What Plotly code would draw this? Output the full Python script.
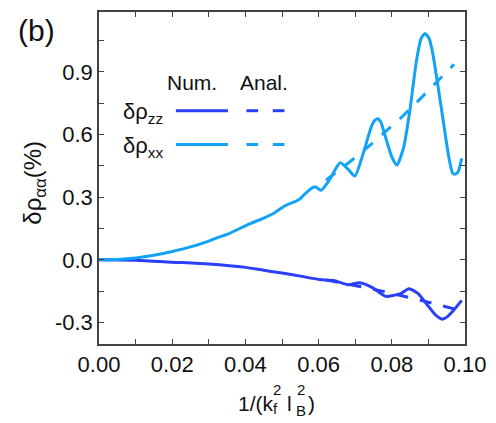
import plotly.graph_objects as go

# ---- data ----
x_xx_num = [0, 0.005, 0.01, 0.015, 0.02, 0.025, 0.03, 0.0322, 0.035, 0.041, 0.045, 0.0481,
            0.0508, 0.0535, 0.0548, 0.0557, 0.0575, 0.0583, 0.0592, 0.0606, 0.0628, 0.0659,
            0.0681, 0.0699, 0.0721, 0.0743, 0.0752, 0.0761, 0.0770, 0.0778, 0.0801, 0.0814,
            0.0832, 0.0849, 0.0867, 0.0880, 0.0891, 0.0902, 0.0911, 0.0934, 0.0956, 0.0966,
            0.0971, 0.0976, 0.0982, 0.0991]
y_xx_num = [0, 0.002, 0.009, 0.022, 0.04, 0.062, 0.09, 0.105, 0.122, 0.171, 0.2, 0.227,
            0.259, 0.279, 0.29, 0.306, 0.335, 0.346, 0.349, 0.333, 0.378, 0.465,
            0.433, 0.401, 0.505, 0.632, 0.665, 0.676, 0.66, 0.616, 0.489, 0.454,
            0.536, 0.711, 0.949, 1.06, 1.084, 1.06, 0.997, 0.743, 0.489, 0.415,
            0.410, 0.412, 0.425, 0.486]

x_zz_num = [0, 0.01, 0.02, 0.03, 0.04, 0.045, 0.05, 0.055, 0.0601, 0.0641, 0.0681, 0.0712,
            0.0747, 0.0783, 0.0805, 0.0827, 0.0847, 0.0872, 0.0898, 0.0920, 0.0938, 0.0951,
            0.0969, 0.0991]
y_zz_num = [0, -0.002, -0.011, -0.02, -0.036, -0.05, -0.063, -0.078, -0.094, -0.099, -0.119, -0.11,
            -0.133, -0.175, -0.170, -0.159, -0.138, -0.162, -0.218, -0.265, -0.284, -0.273,
            -0.241, -0.194]

x_anal = [0.062, 0.066, 0.07, 0.074, 0.078, 0.082, 0.086, 0.09, 0.094, 0.097]
y_xx_anal = [0.381, 0.435, 0.49, 0.548, 0.608, 0.672, 0.74, 0.81, 0.884, 0.936]
y_zz_anal = [-0.096, -0.109, -0.122, -0.137, -0.152, -0.168, -0.185, -0.203, -0.221, -0.235]

x_tickvals = [0, 0.02, 0.04, 0.06, 0.08, 0.10]
x_ticktext = ["0.00", "0.02", "0.04", "0.06", "0.08", "0.10"]
y_tickvals = [-0.3, 0.0, 0.3, 0.6, 0.9]
y_ticktext = ["-0.3", "0.0", "0.3", "0.6", "0.9"]

C_XX = "#12A3F6"
C_ZZ = "#2A40F8"
FONT = "Liberation Sans, Arial, sans-serif"

# ---- layout geometry (pixels) ----
W, H = 496, 423
L, R, T, B = 99, 21, 10, 79
PW, PH = W - L - R, H - T - B


def px(xp):
    return (xp - L) / PW


def py(yp):
    return (H - B - yp) / PH


fig = go.Figure()
fig.add_trace(go.Scatter(x=x_zz_num, y=y_zz_num, mode="lines", line=dict(color=C_ZZ, width=3, shape="spline", smoothing=0.6)))
fig.add_trace(go.Scatter(x=x_xx_num, y=y_xx_num, mode="lines", line=dict(color=C_XX, width=3, shape="spline", smoothing=0.6)))
fig.add_trace(go.Scatter(x=x_anal, y=y_zz_anal, mode="lines", line=dict(color=C_ZZ, width=3, dash="12px,12px")))
fig.add_trace(go.Scatter(x=x_anal, y=y_xx_anal, mode="lines", line=dict(color=C_XX, width=3, dash="12px,12px")))

axis_common = dict(showgrid=False, zeroline=False, showline=True, linecolor="#444", linewidth=1.5,
                   mirror="ticks", ticks="inside", ticklen=5, tickwidth=1.2, tickcolor="#444",
                   ticklabeloverflow="allow",
                   tickfont=dict(family=FONT, size=22, color="#111"))
fig.update_xaxes(range=[0, 0.1], tickmode="array", tickvals=x_tickvals, ticktext=x_ticktext,
                 minor=dict(dtick=0.01, tick0=0, ticks="inside", ticklen=5, tickwidth=1.2, tickcolor="#444", showgrid=False),
                 **axis_common)
fig.update_yaxes(range=[-0.403, 1.187], tickmode="array", tickvals=y_tickvals, ticktext=y_ticktext,
                 minor=dict(dtick=0.15, tick0=0, ticks="inside", ticklen=5, tickwidth=1.2, tickcolor="#444", showgrid=False),
                 **axis_common)

# legend key samples
shapes = []
for yk, col in [(109.3, C_ZZ), (143.3, C_XX)]:
    shapes.append(dict(type="line", xref="paper", yref="paper", x0=px(178), x1=px(231.5), y0=py(yk), y1=py(yk),
                       line=dict(color=col, width=3)))
    for a, b in [(250.5, 262.5), (277.5, 289.5)]:
        shapes.append(dict(type="line", xref="paper", yref="paper", x0=px(a), x1=px(b), y0=py(yk), y1=py(yk),
                           line=dict(color=col, width=3)))
fig.update_layout(shapes=shapes)

ann = []


def add(text, xp, yp, size, xanchor="center", yanchor="middle", angle=0):
    ann.append(dict(text=text, x=px(xp), y=py(yp), xref="paper", yref="paper", showarrow=False,
                    xanchor=xanchor, yanchor=yanchor, textangle=angle,
                    font=dict(family=FONT, size=size, color="#111"), borderpad=0))


add("(b)", 35, 29, 30)
add("Num.", 195, 81, 21)
add("Anal.", 269, 81, 21)
add("δρ<sub>zz</sub>", 123, 112, 22, xanchor="left")
add("δρ<sub>xx</sub>", 123, 146, 22, xanchor="left")
add("δρ<sub>αα</sub>(%)", 33, 182, 24, angle=-90)
# x-axis title built from pieces so that sup/sub stack
add("1/(k", 280, 404, 21, xanchor="right")
add("2", 277, 390, 15, xanchor="left")
add("f", 277, 409, 15, xanchor="left")
add("l", 291, 404, 21, xanchor="left")
add("2", 301, 390, 15, xanchor="left")
add("B", 300, 411, 15, xanchor="left")
add(")", 313, 404, 21, xanchor="left")

fig.update_layout(annotations=ann, width=W, height=H, margin=dict(l=L, r=R, t=T, b=B),
                  plot_bgcolor="white", paper_bgcolor="white", showlegend=False,
                  font=dict(family=FONT))

fig.write_html("out.html")
